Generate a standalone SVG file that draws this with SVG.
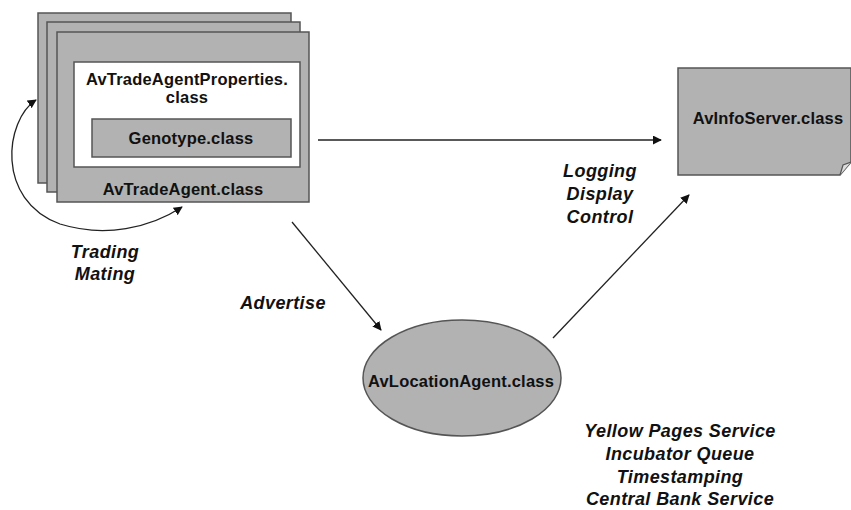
<svg xmlns="http://www.w3.org/2000/svg" width="851" height="510" viewBox="0 0 851 510">
  <defs>
    <marker id="arrow" viewBox="0 0 10 10" refX="9" refY="5" markerWidth="9" markerHeight="9" markerUnits="userSpaceOnUse" orient="auto-start-reverse">
      <path d="M0,0 L10,5 L0,10 z" fill="#111"/>
    </marker>
    <style>
      .box { fill: #b2b2b2; stroke: #555; stroke-width: 1.5; }
      .white { fill: #fff; stroke: #555; stroke-width: 1.5; }
      .lbl { font-family: "Liberation Sans", Arial, sans-serif; font-weight: bold; font-size: 16.5px; letter-spacing: 0.2px; fill: #111; text-anchor: middle; }
      .note { font-family: "Liberation Sans", Arial, sans-serif; font-weight: bold; font-style: italic; font-size: 18px; letter-spacing: 0.4px; fill: #111; text-anchor: middle; }
      .conn { fill: none; stroke: #222; stroke-width: 1.3; }
    </style>
  </defs>
  <rect width="851" height="510" fill="#fff"/>

  <!-- Stack of trade agents -->
  <g id="trade-agent">
    <rect class="box" x="38" y="13" width="253" height="170"/>
    <rect class="box" x="47" y="22" width="253" height="170"/>
    <rect class="box" x="57" y="32" width="252" height="170"/>
    <rect class="white" x="74" y="62" width="226" height="105"/>
    <text class="lbl" x="187" y="85">AvTradeAgentProperties.</text>
    <text class="lbl" x="187" y="103">class</text>
    <rect class="box" x="92" y="119" width="199" height="38"/>
    <text class="lbl" x="191" y="144">Genotype.class</text>
    <text class="lbl" x="183" y="195">AvTradeAgent.class</text>
  </g>

  <!-- Info server document -->
  <g id="info-server">
    <path class="box" d="M678,68 L851,68 L851,162 L840,175 L678,175 z"/>
    <path d="M840,175 L843,165 L851,162" fill="#ddd" stroke="#555" stroke-width="1.2"/>
    <text class="lbl" x="768" y="124">AvInfoServer.class</text>
  </g>

  <!-- Location agent -->
  <g id="location-agent">
    <ellipse class="box" cx="462" cy="378" rx="99" ry="58"/>
    <text class="lbl" x="461" y="387">AvLocationAgent.class</text>
  </g>

  <!-- Connectors -->
  <g id="connectors">
    <path class="conn" d="M36,100 C5,120 -5,200 60,224 C105,238 150,228 182,207" marker-start="url(#arrow)" marker-end="url(#arrow)"/>
    <line class="conn" x1="318" y1="140" x2="661" y2="140" marker-end="url(#arrow)"/>
    <line class="conn" x1="292" y1="222" x2="381" y2="330" marker-end="url(#arrow)"/>
    <line class="conn" x1="553" y1="338" x2="689" y2="195" marker-end="url(#arrow)"/>
  </g>

  <!-- Connector labels -->
  <g id="labels">
    <text class="note" x="105" y="258">Trading</text>
    <text class="note" x="105" y="280">Mating</text>
    <text class="note" x="600" y="177">Logging</text>
    <text class="note" x="600" y="200">Display</text>
    <text class="note" x="600" y="223">Control</text>
    <text class="note" x="283" y="309">Advertise</text>
    <text class="note" x="680" y="437">Yellow Pages Service</text>
    <text class="note" x="680" y="460">Incubator Queue</text>
    <text class="note" x="680" y="483">Timestamping</text>
    <text class="note" x="680" y="505">Central Bank Service</text>
  </g>
</svg>
